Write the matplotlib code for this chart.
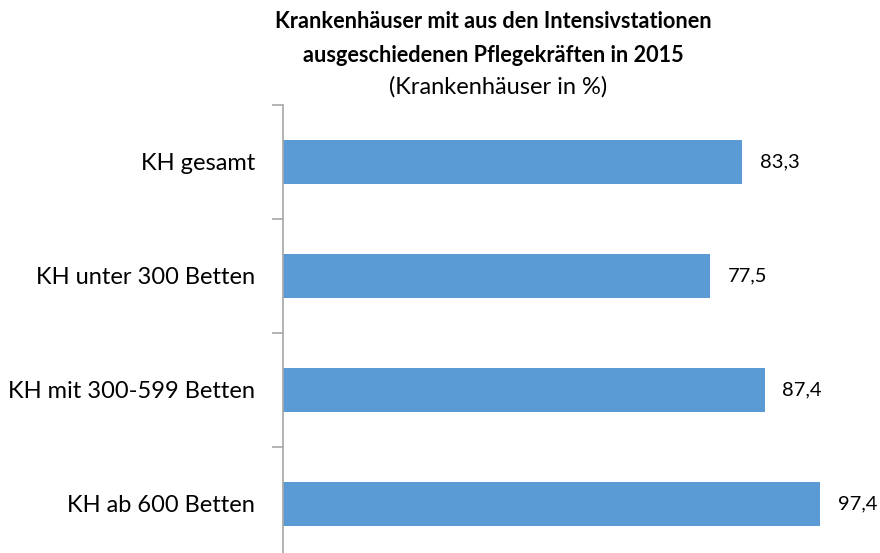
import matplotlib
matplotlib.use("Agg")
import matplotlib.pyplot as plt
import numpy as np

categories = ["KH gesamt", "KH unter 300 Betten", "KH mit 300-599 Betten", "KH ab 600 Betten"]
values = [83.3, 77.5, 87.4, 97.4]
value_labels = ["83,3", "77,5", "87,4", "97,4"]

plt.rcParams['font.family'] = ['Lato', 'DejaVu Sans']

fig = plt.figure(figsize=(8.8, 5.53), dpi=100)
ax = fig.add_axes([283/880, -8/553, 597/880, 456/553])

y = np.arange(len(categories))
ax.barh(y, values, height=0.38, color='#5B9BD5')
for yi, v, lab in zip(y, values, value_labels):
    ax.text(v + 3.2, yi, lab, va='center', ha='left', fontsize=14.5, color='black')

ax.set_xlim(0, 108.3)
ax.set_ylim(3.5, -0.5)
ax.set_yticks(y)
ax.set_yticklabels(categories, fontsize=17)
ax.tick_params(axis='y', which='major', length=0, pad=20)
ax.set_yticks([-0.5, 0.5, 1.5, 2.5], minor=True)
ax.tick_params(axis='y', which='minor', length=8, width=1.2, color='#A6A6A6', direction='out')
ax.set_xticks([])
for s in ['top', 'right', 'bottom']:
    ax.spines[s].set_visible(False)
ax.spines['left'].set_color('#A6A6A6')
ax.spines['left'].set_linewidth(1.2)

fig.text(493/880, 1 - 22/553, "Krankenhäuser mit aus den Intensivstationen", ha='center', va='center',
         fontsize=15.6, fontweight='bold')
fig.text(493/880, 1 - 55/553, "ausgeschiedenen Pflegekräften in 2015", ha='center', va='center',
         fontsize=15.6, fontweight='bold')
fig.text(498/880, 1 - 87/553, "(Krankenhäuser in %)", ha='center', va='center', fontsize=17)

fig.savefig("out.png", dpi=100)
